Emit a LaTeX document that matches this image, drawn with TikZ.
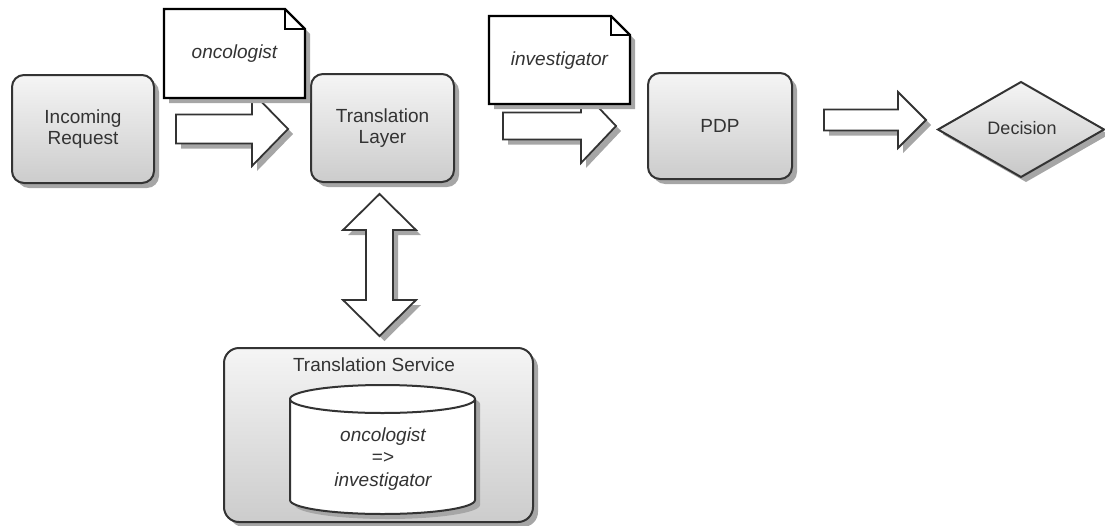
\documentclass[tikz,border=0pt]{standalone}
\usepackage{fontspec}
\setmainfont{Liberation Sans}
\usetikzlibrary{shapes.geometric,shadows,calc}

% horizontal block arrow: x start, head base x, tip x, y centre, shaft half width, head half width
\newcommand{\harrow}[6]{%
  \draw[barrow] (#1,#4-#5) -- (#2,#4-#5) -- (#2,#4-#6) -- (#3,#4)
    -- (#2,#4+#6) -- (#2,#4+#5) -- (#1,#4+#5) -- cycle;}

\begin{document}
\begin{tikzpicture}[x=1pt,y=-1pt,
  font=\fontsize{19}{21}\selectfont,
  every node/.style={text=black!80},
  dshadow/.style={drop shadow={shadow xshift=5pt,shadow yshift=-5pt,fill=black!35,opacity=1}},
  box/.style={dshadow, draw=black!80, line width=2pt, rounded corners=12pt,
    top color=black!4, bottom color=black!20, align=center, inner sep=0pt},
  barrow/.style={dshadow, draw=black!80, line width=1.8pt, fill=white, line join=miter},
  notepath/.style={dshadow, draw=black, line width=2.4pt, fill=white, line join=miter},
  foldline/.style={draw=black, line width=2pt},
  notetext/.style={font=\fontsize{19}{21}\selectfont\itshape, inner sep=0pt},
  cyl/.style={dshadow, draw=black!80, line width=2pt, fill=white},
]
\useasboundingbox (0,0) rectangle (1105,525);

% main process boxes
\node[box, minimum width=142pt, minimum height=108pt] (inc) at (83,129) {Incoming\\Request};
\node[box, minimum width=143pt, minimum height=108pt] (tl) at (382.5,128) {Translation\\Layer};
\node[box, minimum width=144pt, minimum height=106pt] (pdp) at (720,126) {PDP};

% decision diamond
\draw[dshadow, draw=black!80, line width=2pt, line join=miter, top color=black!4, bottom color=black!22]
  (938,129.5) -- (1021,82) -- (1104,129.5) -- (1021,177) -- cycle;
\node[inner sep=0pt, font=\fontsize{18}{20}\selectfont] (dec) at (1022,128) {Decision};

% block arrows along the request flow
\harrow{176}{252}{288}{129}{14.5}{37}
\harrow{503}{581}{616}{126}{13.5}{37}
\harrow{824}{898}{926}{120}{10.5}{28}

% role notes
\draw[notepath] (164,9) -- (285,9) -- (305,29) -- (305,98) -- (164,98) -- cycle;
\draw[foldline] (285,9) -- (285,29) -- (305,29);
\node[notetext] (n1) at (234.5,54) {oncologist};

\draw[notepath] (489,16) -- (611,16) -- (630,35) -- (630,104) -- (489,104) -- cycle;
\draw[foldline] (611,16) -- (611,35) -- (630,35);
\node[notetext] (n2) at (559.5,61) {investigator};

% two-way link to the translation service
\draw[barrow] (379.5,194) -- (416,230) -- (393,230) -- (393,300) -- (416,300)
  -- (379.5,336) -- (343,300) -- (366,300) -- (366,230) -- (343,230) -- cycle;

% translation service container
\node[box, rounded corners=15pt, minimum width=309pt, minimum height=174pt] (ts) at (378.5,435) {};
\node[inner sep=0pt] (tstitle) at (374,365) {Translation Service};

% mapping store
\draw[cyl] (290,399) -- (290,500) arc[start angle=180,end angle=0,x radius=92.5,y radius=14]
  -- (475,399) arc[start angle=0,end angle=-180,x radius=92.5,y radius=14] -- cycle;
\draw[draw=black!80, line width=2pt] (290,399) arc[start angle=180,end angle=0,x radius=92.5,y radius=14];
\node[align=center, inner sep=0pt, font=\fontsize{19}{22.5}\selectfont] (db) at (383,459)
  {\itshape oncologist\\=>\\\itshape investigator};
\end{tikzpicture}
\end{document}
